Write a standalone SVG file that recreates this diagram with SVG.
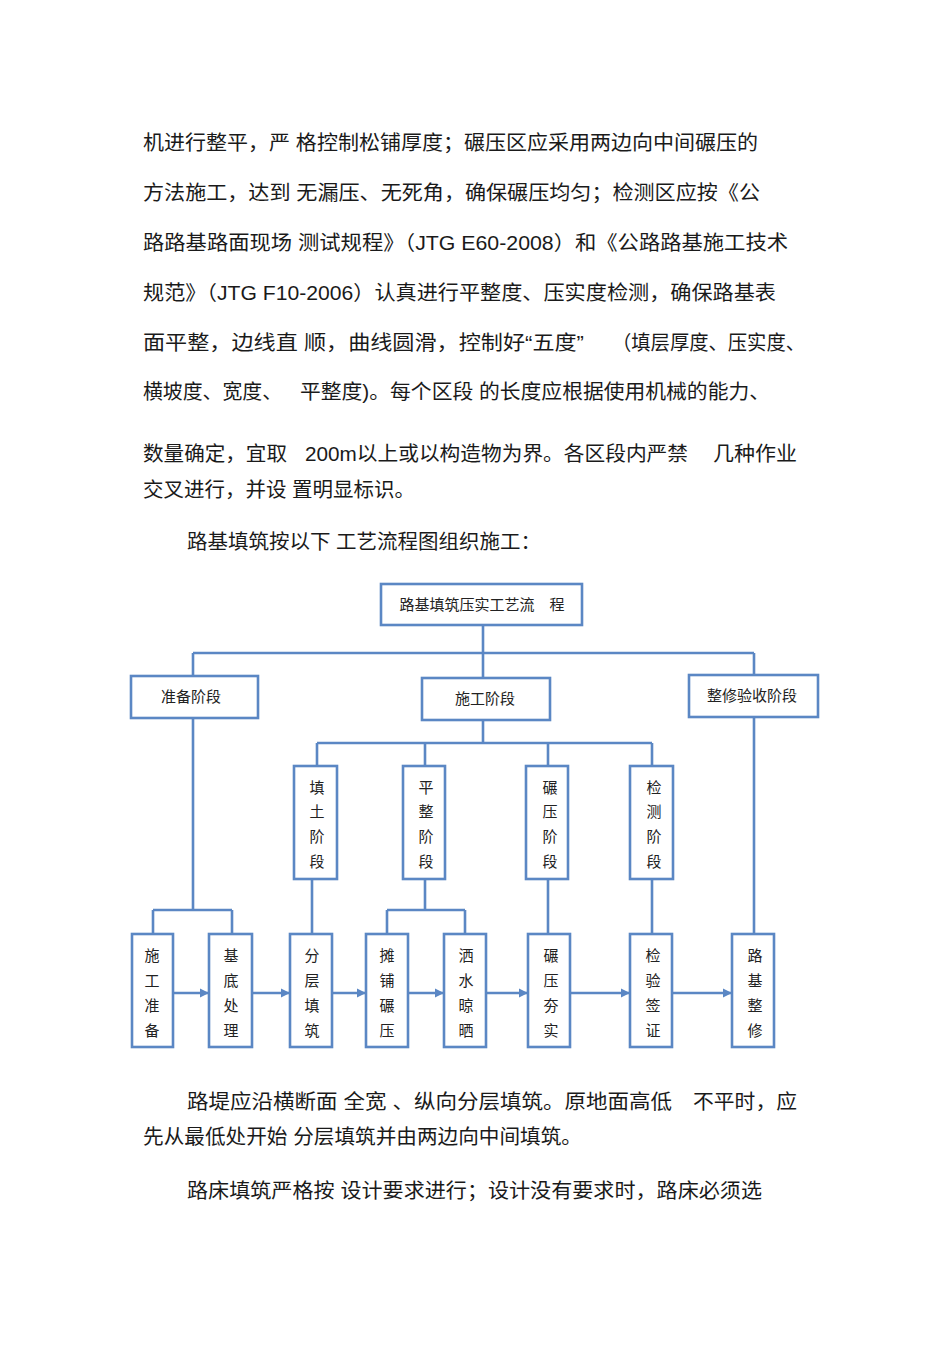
<svg xmlns="http://www.w3.org/2000/svg" width="950" height="1346" viewBox="0 0 950 1346">
<defs>
<style>
.body{font-family:"Liberation Sans","Noto Sans CJK SC",sans-serif;font-size:20px;fill:#1a1a1a}
.lbl{font-family:"Noto Sans CJK SC",sans-serif;font-size:15px;fill:#222;text-anchor:middle}
.box{fill:#fff;stroke:#5b87c4;stroke-width:2.6}
.ln{fill:none;stroke:#5b87c4;stroke-width:2.6}
.ar{fill:none;stroke:#5b87c4;stroke-width:2.6;marker-end:url(#ah)}
</style>
<marker id="ah" markerWidth="10" markerHeight="10" refX="9" refY="5" orient="auto" markerUnits="userSpaceOnUse">
<path d="M0,0.5 L9,5 L0,9.5 Z" fill="#5b87c4"/>
</marker>
</defs>
<rect width="950" height="1346" fill="#fff"/>
<g id="body-text">
<text class="body" x="143" y="150" textLength="615" lengthAdjust="spacingAndGlyphs">机进行整平，严 格控制松铺厚度；碾压区应采用两边向中间碾压的</text>
<text class="body" x="143" y="200" textLength="617" lengthAdjust="spacingAndGlyphs">方法施工，达到 无漏压、无死角，确保碾压均匀；检测区应按《公</text>
<text class="body" x="143" y="250" textLength="645" lengthAdjust="spacingAndGlyphs">路路基路面现场 测试规程》（JTG E60-2008）和《公路路基施工技术</text>
<text class="body" x="143" y="300" textLength="633" lengthAdjust="spacingAndGlyphs">规范》（JTG  F10-2006）认真进行平整度、压实度检测，确保路基表</text>
<text class="body" x="143" y="350" textLength="441" lengthAdjust="spacingAndGlyphs">面平整，边线直 顺，曲线圆滑，控制好“五度”</text>
<text class="body" x="612" y="350" textLength="193" lengthAdjust="spacingAndGlyphs">（填层厚度、压实度、</text>
<text class="body" x="143" y="399" textLength="139" lengthAdjust="spacingAndGlyphs">横坡度、宽度、</text>
<text class="body" x="300" y="399" textLength="470" lengthAdjust="spacingAndGlyphs">平整度)。每个区段 的长度应根据使用机械的能力、</text>
<text class="body" x="143" y="461" textLength="144" lengthAdjust="spacingAndGlyphs">数量确定，宜取</text>
<text class="body" x="305" y="461" textLength="383" lengthAdjust="spacingAndGlyphs">200m以上或以构造物为界。各区段内严禁</text>
<text class="body" x="713" y="461" textLength="84" lengthAdjust="spacingAndGlyphs">几种作业</text>
<text class="body" x="143" y="497" textLength="272" lengthAdjust="spacingAndGlyphs">交叉进行，并设 置明显标识。</text>
<text class="body" x="187" y="549" textLength="354" lengthAdjust="spacingAndGlyphs">路基填筑按以下 工艺流程图组织施工：</text>
<text class="body" x="187" y="1109" textLength="485" lengthAdjust="spacingAndGlyphs">路堤应沿横断面 全宽 、纵向分层填筑。原地面高低</text>
<text class="body" x="693" y="1109" textLength="104" lengthAdjust="spacingAndGlyphs">不平时，应</text>
<text class="body" x="143" y="1144" textLength="439" lengthAdjust="spacingAndGlyphs">先从最低处开始 分层填筑并由两边向中间填筑。</text>
<text class="body" x="187" y="1198" textLength="575" lengthAdjust="spacingAndGlyphs">路床填筑严格按 设计要求进行；设计没有要求时，路床必须选</text>
</g>
<g id="connectors">
<path class="ln" d="M483,626 V678 M193,653 H754 M193,653 V676 M754,653 V675"/>
<path class="ln" d="M483,720 V743 M317,743 H652 M317,743 V766 M425,743 V766 M548,743 V766 M652,743 V766"/>
<path class="ln" d="M193,719 V910 M153,910 H232 M153,910 V934 M232,910 V934"/>
<path class="ln" d="M312,879 V934 M425,879 V910 M387,910 H465 M387,910 V934 M465,910 V934 M548,879 V934 M652,879 V934 M754,718 V934"/>
<path class="ar" d="M173,993 H209"/>
<path class="ar" d="M252,993 H290"/>
<path class="ar" d="M332,993 H366"/>
<path class="ar" d="M408,993 H444"/>
<path class="ar" d="M486,993 H528"/>
<path class="ar" d="M570,993 H630"/>
<path class="ar" d="M672,993 H732"/>
</g>
<g id="n-top"><rect class="box" x="381" y="584" width="201" height="41"/><text class="lbl" x="482" y="610">路基填筑压实工艺流　程</text></g>
<g id="n-zhunbei"><rect class="box" x="131" y="676" width="127" height="42"/><text class="lbl" x="191" y="702">准备阶段</text></g>
<g id="n-shigong"><rect class="box" x="422" y="678" width="128" height="42"/><text class="lbl" x="485" y="704">施工阶段</text></g>
<g id="n-zhengxiu"><rect class="box" x="689" y="675" width="129" height="42"/><text class="lbl" x="752" y="701">整修验收阶段</text></g>
<g id="n-tiantu"><rect class="box" x="294" y="766" width="43" height="113"/><text class="lbl"><tspan x="317" y="793">填</tspan><tspan x="317" y="817">土</tspan><tspan x="317" y="842">阶</tspan><tspan x="317" y="867">段</tspan></text></g>
<g id="n-pingzheng"><rect class="box" x="403" y="766" width="42" height="113"/><text class="lbl"><tspan x="426" y="793">平</tspan><tspan x="426" y="817">整</tspan><tspan x="426" y="842">阶</tspan><tspan x="426" y="867">段</tspan></text></g>
<g id="n-nianya"><rect class="box" x="526" y="766" width="42" height="113"/><text class="lbl"><tspan x="550" y="793">碾</tspan><tspan x="550" y="817">压</tspan><tspan x="550" y="842">阶</tspan><tspan x="550" y="867">段</tspan></text></g>
<g id="n-jiance"><rect class="box" x="630" y="766" width="43" height="113"/><text class="lbl"><tspan x="654" y="793">检</tspan><tspan x="654" y="817">测</tspan><tspan x="654" y="842">阶</tspan><tspan x="654" y="867">段</tspan></text></g>
<g id="n-b1"><rect class="box" x="132" y="934" width="41" height="113"/><text class="lbl"><tspan x="152" y="961">施</tspan><tspan x="152" y="986">工</tspan><tspan x="152" y="1011">准</tspan><tspan x="152" y="1036">备</tspan></text></g>
<g id="n-b2"><rect class="box" x="209" y="934" width="43" height="113"/><text class="lbl"><tspan x="231" y="961">基</tspan><tspan x="231" y="986">底</tspan><tspan x="231" y="1011">处</tspan><tspan x="231" y="1036">理</tspan></text></g>
<g id="n-b3"><rect class="box" x="290" y="934" width="42" height="113"/><text class="lbl"><tspan x="312" y="961">分</tspan><tspan x="312" y="986">层</tspan><tspan x="312" y="1011">填</tspan><tspan x="312" y="1036">筑</tspan></text></g>
<g id="n-b4"><rect class="box" x="366" y="934" width="42" height="113"/><text class="lbl"><tspan x="387" y="961">摊</tspan><tspan x="387" y="986">铺</tspan><tspan x="387" y="1011">碾</tspan><tspan x="387" y="1036">压</tspan></text></g>
<g id="n-b5"><rect class="box" x="444" y="934" width="42" height="113"/><text class="lbl"><tspan x="466" y="961">洒</tspan><tspan x="466" y="986">水</tspan><tspan x="466" y="1011">晾</tspan><tspan x="466" y="1036">晒</tspan></text></g>
<g id="n-b6"><rect class="box" x="528" y="934" width="42" height="113"/><text class="lbl"><tspan x="551" y="961">碾</tspan><tspan x="551" y="986">压</tspan><tspan x="551" y="1011">夯</tspan><tspan x="551" y="1036">实</tspan></text></g>
<g id="n-b7"><rect class="box" x="630" y="934" width="42" height="113"/><text class="lbl"><tspan x="653" y="961">检</tspan><tspan x="653" y="986">验</tspan><tspan x="653" y="1011">签</tspan><tspan x="653" y="1036">证</tspan></text></g>
<g id="n-b8"><rect class="box" x="732" y="934" width="42" height="113"/><text class="lbl"><tspan x="755" y="961">路</tspan><tspan x="755" y="986">基</tspan><tspan x="755" y="1011">整</tspan><tspan x="755" y="1036">修</tspan></text></g>
</svg>
